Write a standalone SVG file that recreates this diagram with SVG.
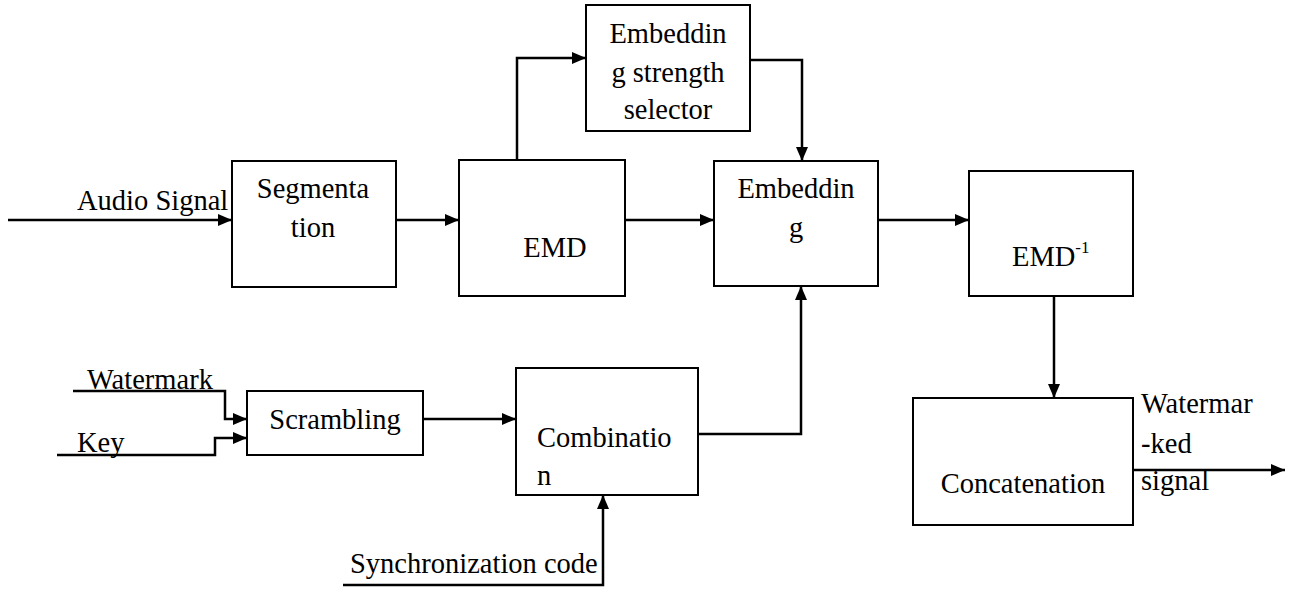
<svg xmlns="http://www.w3.org/2000/svg" width="1303" height="590" viewBox="0 0 1303 590">
<style>
.box{fill:#fff;stroke:#000;stroke-width:2}
.ln{fill:none;stroke:#000;stroke-width:2.5}
text{font-family:"Liberation Serif","DejaVu Serif",serif;font-size:28.5px;fill:#000}
.c{text-anchor:middle}
</style>
<defs>
<marker id="ah" viewBox="0 0 14 12" refX="14" refY="6" markerWidth="14" markerHeight="12" markerUnits="userSpaceOnUse" orient="auto">
<path d="M0,0 L14,6 L0,12 Z" fill="#000"/>
</marker>
</defs>
<rect width="1303" height="590" fill="#fff"/>
<g id="connectors">
<path class="ln" d="M8,220 H232" marker-end="url(#ah)"/>
<path class="ln" d="M396,220 H459" marker-end="url(#ah)"/>
<path class="ln" d="M517,160 V58 H586" marker-end="url(#ah)"/>
<path class="ln" d="M625,220 H714" marker-end="url(#ah)"/>
<path class="ln" d="M750,60 H802 V161" marker-end="url(#ah)"/>
<path class="ln" d="M878,220 H969" marker-end="url(#ah)"/>
<path class="ln" d="M1054,296 V398" marker-end="url(#ah)"/>
<path class="ln" d="M1131,470 H1285" marker-end="url(#ah)"/>
<path class="ln" d="M73,391 H225 V419 H247" marker-end="url(#ah)"/>
<path class="ln" d="M57,455 H215 V438 H247" marker-end="url(#ah)"/>
<path class="ln" d="M423,419 H516" marker-end="url(#ah)"/>
<path class="ln" d="M698,434 H801 V286" marker-end="url(#ah)"/>
<path class="ln" d="M343,585 H603 V495" marker-end="url(#ah)"/>
</g>
<g id="labels">
<text x="77" y="210">Audio Signal</text>
<text x="87" y="389">Watermark</text>
<text x="77" y="452">Key</text>
<text x="350" y="573">Synchronization code</text>
<text x="1141" y="413">Watermar</text>
<text x="1141" y="453">-ked</text>
<text x="1141" y="490">signal</text>
</g>
<g id="segmentation">
<rect class="box" x="232" y="161" width="164" height="126"/>
<text class="c" x="313" y="198">Segmenta</text>
<text class="c" x="313" y="237">tion</text>
</g>
<g id="emd">
<rect class="box" x="459" y="160" width="166" height="136"/>
<text class="c" x="555" y="257">EMD</text>
</g>
<g id="selector">
<rect class="box" x="586" y="5" width="164" height="126"/>
<text class="c" x="668" y="43">Embeddin</text>
<text class="c" x="668" y="82">g strength</text>
<text class="c" x="668" y="119">selector</text>
</g>
<g id="embedding">
<rect class="box" x="714" y="161" width="164" height="125"/>
<text class="c" x="796" y="198">Embeddin</text>
<text class="c" x="796" y="237">g</text>
</g>
<g id="emd-inverse">
<rect class="box" x="969" y="171" width="164" height="125"/>
<text x="1012" y="266">EMD<tspan font-size="17" dy="-13">-1</tspan></text>
</g>
<g id="concatenation">
<rect class="box" x="913" y="398" width="220" height="127"/>
<text class="c" x="1023" y="493">Concatenation</text>
</g>
<g id="scrambling">
<rect class="box" x="247" y="391" width="176" height="64"/>
<text class="c" x="335" y="429">Scrambling</text>
</g>
<g id="combination">
<rect class="box" x="516" y="368" width="182" height="127"/>
<text x="537" y="447">Combinatio</text>
<text x="537" y="485">n</text>
</g>
</svg>
